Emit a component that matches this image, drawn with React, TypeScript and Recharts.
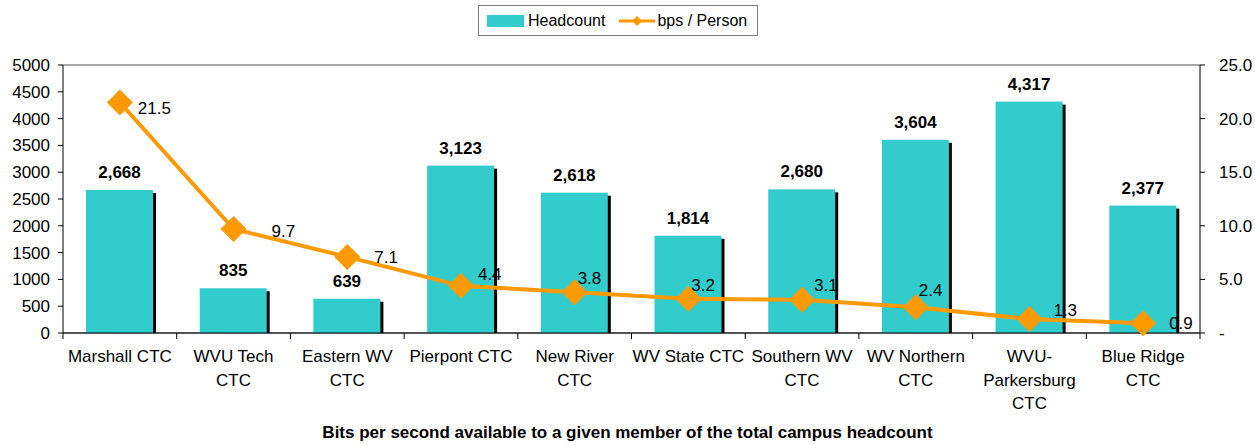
import { ComposedChart, Bar, Line, XAxis, YAxis, CartesianGrid, LabelList } from "recharts";

const campuses = [
  "Marshall CTC",
  "WVU Tech\nCTC",
  "Eastern WV\nCTC",
  "Pierpont CTC",
  "New River\nCTC",
  "WV State CTC",
  "Southern WV\nCTC",
  "WV Northern\nCTC",
  "WVU-\nParkersburg\nCTC",
  "Blue Ridge\nCTC",
];
const headcount = [2668, 835, 639, 3123, 2618, 1814, 2680, 3604, 4317, 2377];
const bpsPerPerson = [21.5, 9.7, 7.1, 4.4, 3.8, 3.2, 3.1, 2.4, 1.3, 0.9];
const leftTicks = [0, 500, 1000, 1500, 2000, 2500, 3000, 3500, 4000, 4500, 5000];
const rightTicks = [0, 5, 10, 15, 20, 25];

// the line labels were nudged by hand in the original, so keep their offsets
const bpsLabelNudge = [
  [18, 11], [38, 8], [27, 6], [17, -6], [3, -8],
  [3, -8], [12, -9], [3, -11], [24, -3], [26, 6],
];

const TEAL = "#33CCCC";
const ORANGE = "#FF9900";
const W = 1255;
const H = 445;
const LEFT_W = 63;
const RIGHT_W = 55;
const FS = 17;
const HALF_BAND = (W - LEFT_W - RIGHT_W) / campuses.length / 2;

const data = campuses.map((name, i) => ({
  name,
  headcount: headcount[i],
  bps: bpsPerPerson[i],
}));

function CatTick(props: any) {
  const { x, y, payload, index } = props;
  const lines = String(payload.value).split("\n");
  return (
    <g>
      <line x1={x - HALF_BAND} x2={x - HALF_BAND} y1={y} y2={y + 6} stroke="#000" />
      {index === campuses.length - 1 && (
        <line x1={x + HALF_BAND} x2={x + HALF_BAND} y1={y} y2={y + 6} stroke="#000" />
      )}
      {lines.map((l, i) => (
        <text key={i} x={x} y={y + 29 + i * 23.5} textAnchor="middle" fontSize={FS} fill="#000">
          {l}
        </text>
      ))}
    </g>
  );
}

function ShadowBar(props: any) {
  const { x, y, width, height, fill } = props;
  return (
    <g>
      <rect x={x + 3} y={y + 3} width={width} height={Math.max(height - 3, 0)} fill="#000" />
      <rect x={x} y={y} width={width} height={height} fill={fill} />
    </g>
  );
}

function Diamond(props: any) {
  const { cx, cy } = props;
  const r = 13;
  return (
    <polygon
      points={`${cx},${cy - r} ${cx + r},${cy} ${cx},${cy + r} ${cx - r},${cy}`}
      fill={ORANGE}
    />
  );
}

function BpsLabel(props: any) {
  const { x, y, value, index } = props;
  const [dx, dy] = bpsLabelNudge[index] || [18, 8];
  return (
    <text x={x + dx} y={y + dy} fontSize={FS} fill="#000">
      {Number(value).toFixed(1)}
    </text>
  );
}

export default function App() {
  return (
    <div
      style={{
        position: "absolute",
        left: 0,
        top: 0,
        width: W,
        height: H,
        background: "#fff",
        fontFamily: "'Liberation Sans', Arial, sans-serif",
      }}
    >
      <div
        style={{
          position: "absolute",
          left: 478,
          top: 5,
          width: 278,
          height: 29,
          border: "1px solid #808080",
          display: "flex",
          alignItems: "center",
          fontSize: 16,
        }}
      >
        <span style={{ display: "inline-block", width: 37, height: 12, background: TEAL, marginLeft: 8 }} />
        <span style={{ marginLeft: 4 }}>Headcount</span>
        <svg width={36} height={12} style={{ marginLeft: 14 }}>
          <line x1={0} x2={36} y1={6} y2={6} stroke={ORANGE} strokeWidth={3} />
          <polygon points="18,1 23,6 18,11 13,6" fill={ORANGE} />
        </svg>
        <span style={{ marginLeft: 2 }}>bps / Person</span>
      </div>

      <ComposedChart width={W} height={H} data={data} margin={{ top: 65, right: 0, left: 0, bottom: 0 }}>
        <CartesianGrid vertical={false} stroke="#555" />
        <XAxis
          dataKey="name"
          interval={0}
          height={112}
          tickLine={false}
          tickSize={0}
          tickMargin={0}
          stroke="#000"
          tick={<CatTick />}
        />
        <YAxis
          yAxisId="left"
          width={LEFT_W}
          domain={[0, 5000]}
          ticks={leftTicks}
          interval={0}
          stroke="#000"
          tickSize={5}
          tickMargin={8}
          tick={{ fontSize: FS, fill: "#000" }}
        />
        <YAxis
          yAxisId="right"
          orientation="right"
          width={RIGHT_W}
          domain={[0, 25]}
          ticks={rightTicks}
          interval={0}
          stroke="#000"
          tickSize={5}
          tickMargin={14}
          tickFormatter={(v: number) => (v === 0 ? "-" : v.toFixed(1))}
          tick={{ fontSize: FS, fill: "#000" }}
        />
        <Bar
          yAxisId="left"
          dataKey="headcount"
          fill={TEAL}
          barSize={67}
          shape={<ShadowBar />}
          isAnimationActive={false}
        >
          <LabelList
            dataKey="headcount"
            position="top"
            offset={12}
            formatter={(v: any) => Number(v).toLocaleString("en-US")}
            style={{ fontSize: FS, fontWeight: "bold", fill: "#000" }}
          />
        </Bar>
        <Line
          yAxisId="right"
          dataKey="bps"
          stroke={ORANGE}
          strokeWidth={4}
          dot={<Diamond />}
          activeDot={false}
          isAnimationActive={false}
        >
          <LabelList dataKey="bps" content={<BpsLabel />} />
        </Line>
      </ComposedChart>

      <div
        style={{
          position: "absolute",
          left: 0,
          width: W,
          top: 423,
          textAlign: "center",
          fontSize: FS,
          fontWeight: "bold",
        }}
      >
        Bits per second available to a given member of the total campus headcount
      </div>
    </div>
  );
}
